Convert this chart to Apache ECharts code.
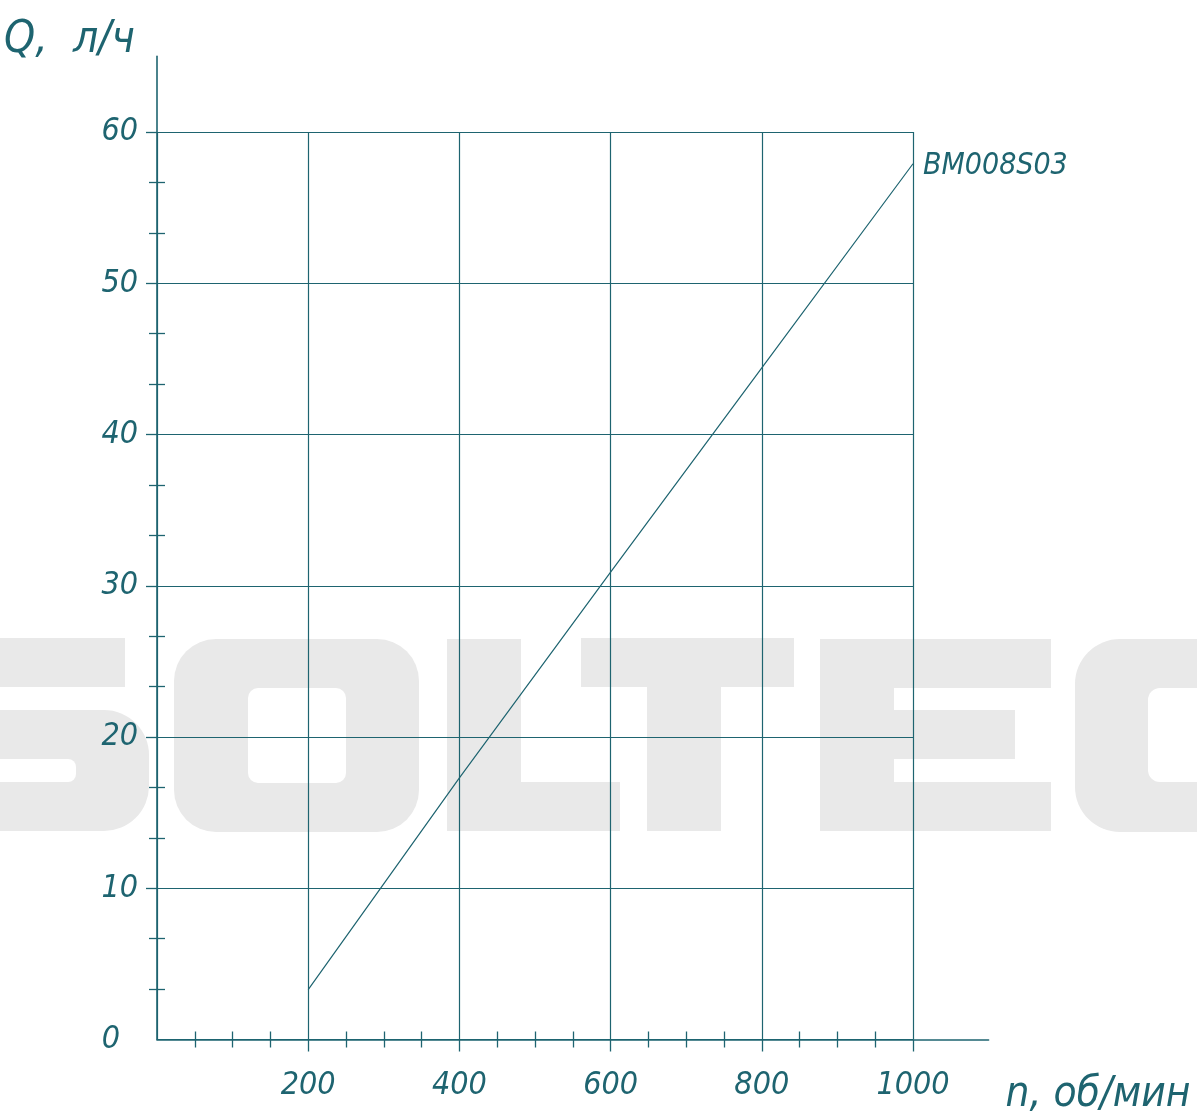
<!DOCTYPE html>
<html>
<head>
<meta charset="utf-8">
<script src="https://cdn.jsdelivr.net/npm/echarts@6/dist/echarts.min.js"></script>
<style>
html,body{margin:0;padding:0;background:#fff;}
#chart{width:1197px;height:1113px;}
</style>
</head>
<body>
<div id="chart"></div>
<script>
// ---- data ----
const speedValues = [200, 400, 600, 800, 1000];          // n, об/мин
const flowValues  = [3.3, 17.3, 30.9, 44.4, 57.9];       // Q, л/ч
const seriesName  = 'BM008S03';
const xAxisName   = 'n, об/мин';
const yAxisName   = 'Q,  л/ч';
const xTickStep   = 200;
const yTickStep   = 10;
const xMax = 1000, yMax = 60;          // gridded area
const xAxisEnd = 1100, yAxisEnd = 65;  // axis lines extend beyond grid

// ---- styles ----
const C = '#1e6470';
const FONT = 'DejaVu Sans Condensed';
const WM = '#e9e9e9';

const chart = echarts.init(document.getElementById('chart'), null, {renderer: 'canvas'});

const gL = 157, gBottom = 1039.5, gTopB = 132;
const pxPerX = 756 / xMax;
const pxPerY = (gBottom - gTopB) / yMax;

const labelStyle = {color: C, fontFamily: FONT, fontStyle: 'italic', fontSize: 32};
const tickLine = {color: C, width: 1.3};

function wmRect(x, y, w, h, r, fill, z) {
  return {type: 'rect', z: z, silent: true,
    shape: {x: x, y: y, width: w, height: h, r: r || 0},
    style: {fill: fill}};
}

const watermark = [
  // S (partial)
  wmRect(-100, 638, 225, 49, 0, WM, -10),
  wmRect(-100, 710, 249, 121, [0, 45, 45, 0], WM, -10),
  wmRect(-100, 759, 176, 23, [0, 8, 8, 0], '#fff', -9),
  // O
  wmRect(174, 639, 245, 193, 42, WM, -10),
  wmRect(248, 688, 98, 95, 10, '#fff', -9),
  // L
  wmRect(447, 639, 74, 192, 0, WM, -10),
  wmRect(447, 782, 173, 49, 0, WM, -10),
  // T
  wmRect(581, 638, 213, 49, 0, WM, -10),
  wmRect(647, 687, 74, 144, 0, WM, -10),
  // E
  wmRect(820, 639, 231, 49, 0, WM, -10),
  wmRect(820, 639, 74, 192, 0, WM, -10),
  wmRect(820, 710, 195, 49, 0, WM, -10),
  wmRect(820, 782, 231, 49, 0, WM, -10),
  // C
  wmRect(1075, 639, 250, 193, [45, 0, 0, 45], WM, -10),
  wmRect(1148, 688, 200, 94, [12, 0, 0, 12], '#fff', -9)
];

const hiddenAxis = (gi) => ({gridIndex: gi, type: 'value', show: false, min: 0, max: 1});

const option = {
  backgroundColor: '#fff',
  animation: false,
  graphic: {elements: watermark},
  grid: [
    { // 0: axis-line frame (extends beyond gridded area)
      left: gL, top: gBottom - yAxisEnd * pxPerY,
      width: xAxisEnd * pxPerX, height: yAxisEnd * pxPerY,
      containLabel: false, outerBoundsMode: 'none'
    },
    { // 1: gridded area
      left: gL, top: gTopB,
      width: xMax * pxPerX, height: gBottom - gTopB,
      containLabel: false, outerBoundsMode: 'none'
    },
    { // 2: major x ticks (first step .. max)
      left: gL + xTickStep * pxPerX, top: gTopB,
      width: (xMax - xTickStep) * pxPerX, height: gBottom - gTopB,
      containLabel: false, outerBoundsMode: 'none'
    },
    { // 3: major y ticks (first step .. max)
      left: gL, top: gTopB,
      width: xMax * pxPerX, height: (yMax - yTickStep) * pxPerY,
      containLabel: false, outerBoundsMode: 'none'
    }
  ],
  xAxis: [
    { // 0: data axis with grid lines, labels, outer minor ticks
      gridIndex: 1, type: 'value', min: 0, max: xMax, interval: xTickStep, position: 'bottom',
      axisLine: {show: false},
      splitLine: {show: true, lineStyle: {color: C, width: 1.2}},
      axisTick: {show: true, inside: false, length: 0, lineStyle: tickLine},
      minorTick: {show: true, splitNumber: 4, length: 8, lineStyle: tickLine},
      axisLabel: Object.assign({margin: 30, showMinLabel: false,
        formatter: v => (v === 0 ? '' : String(v))}, labelStyle)
    },
    { // 1: inner minor ticks
      gridIndex: 1, type: 'value', min: 0, max: xMax, interval: xTickStep, position: 'bottom',
      axisLine: {show: false}, splitLine: {show: false}, axisLabel: {show: false},
      axisTick: {show: true, inside: true, length: 0, lineStyle: tickLine},
      minorTick: {show: true, splitNumber: 4, length: 8, lineStyle: tickLine}
    },
    { // 2: axis line frame + name
      gridIndex: 0, type: 'value', min: 0, max: xAxisEnd, position: 'bottom',
      axisLine: {show: true, lineStyle: {color: C, width: 1.6}},
      axisTick: {show: false}, axisLabel: {show: false}, splitLine: {show: false},
      name: xAxisName, nameLocation: 'end', nameGap: 17,
      nameTextStyle: {color: C, fontFamily: FONT, fontStyle: 'italic', fontSize: 42,
        align: 'left', verticalAlign: 'top', padding: [35, 0, 0, 0]}
    },
    { // 3: outer major ticks
      gridIndex: 2, type: 'value', min: xTickStep, max: xMax, interval: xTickStep, position: 'bottom',
      axisLine: {show: false}, splitLine: {show: false}, axisLabel: {show: false},
      axisTick: {show: true, inside: false, length: 12, lineStyle: tickLine}
    },
    hiddenAxis(3)
  ],
  yAxis: [
    { // 0
      gridIndex: 1, type: 'value', min: 0, max: yMax, interval: yTickStep, position: 'left',
      axisLine: {show: false},
      splitLine: {show: true, lineStyle: {color: C, width: 1.2}},
      axisTick: {show: true, inside: false, length: 0, lineStyle: tickLine},
      minorTick: {show: true, splitNumber: 3, length: 8, lineStyle: tickLine},
      axisLabel: Object.assign({margin: 19,
        formatter: v => (v === 0 ? '{z|0}' : String(v)),
        rich: {z: {color: C, fontFamily: FONT, fontStyle: 'italic', fontSize: 32, padding: [0, 18, 0, 0]}}
      }, labelStyle)
    },
    { // 1
      gridIndex: 1, type: 'value', min: 0, max: yMax, interval: yTickStep, position: 'left',
      axisLine: {show: false}, splitLine: {show: false}, axisLabel: {show: false},
      axisTick: {show: true, inside: true, length: 0, lineStyle: tickLine},
      minorTick: {show: true, splitNumber: 3, length: 8, lineStyle: tickLine}
    },
    { // 2
      gridIndex: 0, type: 'value', min: 0, max: yAxisEnd, position: 'left',
      axisLine: {show: true, lineStyle: {color: C, width: 1.6}},
      axisTick: {show: false}, axisLabel: {show: false}, splitLine: {show: false},
      name: yAxisName, nameLocation: 'end', nameGap: -6,
      nameTextStyle: {color: C, fontFamily: FONT, fontStyle: 'italic', fontSize: 44,
        align: 'right', verticalAlign: 'bottom', padding: [0, 22, 0, 0]}
    },
    hiddenAxis(2),
    { // 4: outer major ticks
      gridIndex: 3, type: 'value', min: yTickStep, max: yMax, interval: yTickStep, position: 'left',
      axisLine: {show: false}, splitLine: {show: false}, axisLabel: {show: false},
      axisTick: {show: true, inside: false, length: 11, lineStyle: tickLine}
    }
  ],
  series: [
    {
      name: seriesName,
      type: 'line',
      xAxisIndex: 0, yAxisIndex: 0,
      data: speedValues.map((x, i) => [x, flowValues[i]]),
      symbol: 'none',
      lineStyle: {color: C, width: 1.2},
      endLabel: {show: true, formatter: seriesName, distance: 10, offset: [0, 2],
        color: C, fontFamily: FONT, fontStyle: 'italic', fontSize: 30},
      z: 5
    }
  ]
};
chart.setOption(option);
</script>
</body>
</html>
